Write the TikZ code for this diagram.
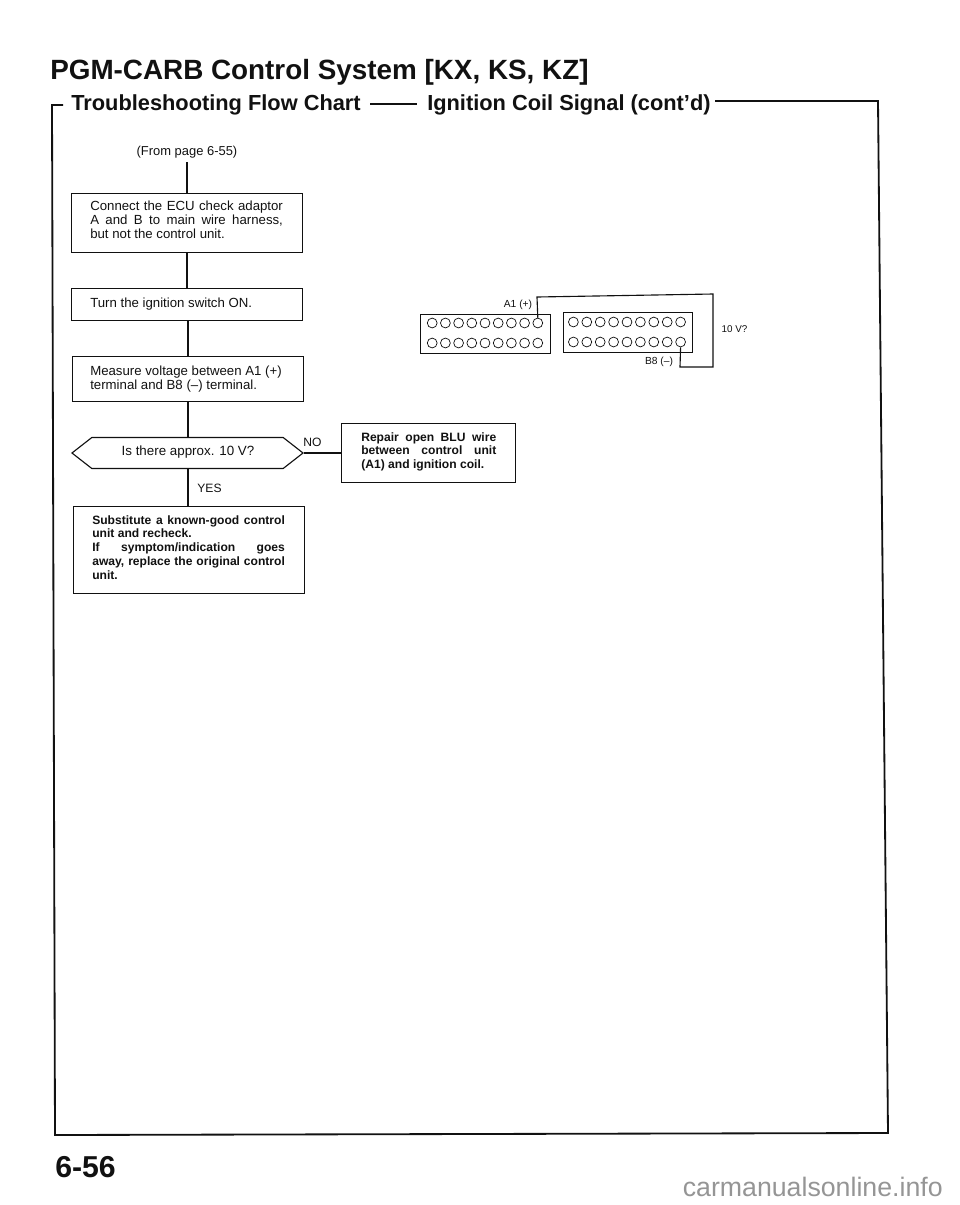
\documentclass[tikz,border=0pt]{standalone}
\usepackage{fontspec}
\setmainfont{Liberation Sans}
\usetikzlibrary{shapes.symbols}
\definecolor{Ink}{HTML}{111111}
\definecolor{Mark}{HTML}{959595}
\newcommand{\flowfont}{\fontsize{9.4}{9.9}\selectfont}
\newcommand{\boldfont}{\fontsize{8.6}{9.9}\selectfont\bfseries}
\tikzset{
  stepbox/.style={draw=Ink, line width=0.8pt, inner sep=0pt, anchor=north west},
  flowline/.style={draw=Ink, line width=0.8pt},
  pin/.style={draw=Ink, circle, line width=0.5pt, minimum size=7pt, inner sep=0pt},
  steptext/.style={inner sep=0pt, text=Ink, anchor=north west, align=justify, text width=137pt, font=\flowfont},
  tag/.style={inner sep=0pt, text=Ink},
}
\begin{document}
\begin{tikzpicture}[x=0.025cm, y=-0.025cm, font=\flowfont, text=Ink]
\useasboundingbox (0,0) rectangle (960,1205);
% title
\node[tag, anchor=base west, font=\fontsize{19.8}{24}\selectfont\bfseries] (title) at (50,79) {PGM-CARB Control System [KX, KS, KZ]};
\node[tag, anchor=base west, font=\fontsize{15.5}{18}\selectfont\bfseries] (subtitle) at (71,110) {Troubleshooting Flow Chart};
\node[tag, anchor=base west, font=\fontsize{15.5}{18}\selectfont\bfseries] (subsig) at (427,110) {Ignition Coil Signal (cont'd)};
\coordinate (dasha) at (370,104);
\coordinate (dashb) at (417,104);
\draw[Ink, line width=0.9pt] (dasha) -- (dashb);
% frame
\coordinate (fa) at (63,105);
\coordinate (fb) at (52,105);
\coordinate (fc) at (55,1135);
\coordinate (fd) at (888,1133);
\coordinate (fe) at (878,101);
\coordinate (ff) at (715,101);
\draw[Ink, line width=1.3pt] (fa) -- (fb) -- (fc) -- (fd) -- (fe) -- (ff);
% flow chart
\node[tag, font=\fontsize{9.2}{11}\selectfont] (from) at (187,152) {(From page 6-55)};
\coordinate (fromend) at (187,162);
\node[stepbox, minimum width=164.3pt, minimum height=42pt] (connect) at (71,193) {};
\node[steptext] (connecttxt) at (90,201) {Connect the ECU check adaptor A and B to main wire harness,\linebreak but not the control unit.};
\node[stepbox, minimum width=164.3pt, minimum height=22.8pt] (turn) at (71,288) {};
\node[steptext] (turntxt) at (90,297.5) {Turn the ignition switch ON.};
\node[stepbox, minimum width=164.3pt, minimum height=32pt] (measure) at (72,356) {};
\node[steptext] (measuretxt) at (90,365.5) {Measure voltage between A1 (+)\\terminal and B8 (--) terminal.};
\node[flowline, shape=signal, signal to=east and west, signal pointer angle=76, minimum width=164.3pt, minimum height=22pt, inner sep=0pt] (approx) at (187.5,453) {};
\node[tag, font=\fontsize{9.5}{11}\selectfont] (approxtxt) at (188,452.5) {Is there approx. 10 V?};
\node[stepbox, minimum width=123.8pt, minimum height=42pt] (repair) at (341,423) {};
\node[steptext, text width=96pt, font=\boldfont] (repairtxt) at (361,432) {Repair open BLU wire between control unit (A1) and ignition coil.};
\node[stepbox, minimum width=164.3pt, minimum height=61.9pt] (subst) at (72.5,506) {};
\node[steptext, font=\boldfont] (substtxt) at (92,515) {Substitute a known-good control unit and recheck.\\If symptom/indication goes\linebreak away, replace the original control\linebreak unit.};
\node[tag, font=\fontsize{8.6}{11}\selectfont] (no) at (312.5,442) {NO};
\node[tag, font=\fontsize{8.6}{11}\selectfont] (yes) at (209.5,488) {YES};
\draw[flowline] (fromend) -- (connect.north -| fromend);
\draw[flowline] (connect.south -| fromend) -- (turn.north -| fromend);
\draw[flowline] (turn.south -| 188,0) -- (measure.north -| 188,0);
\draw[flowline] (measure.south -| 188,0) -- (approx.north -| 188,0);
\draw[flowline] (approx.south -| 188,0) -- (subst.north -| 188,0);
\draw[flowline] (approx.east) -- (repair.west |- approx.east);
% connector blocks
\node[stepbox, minimum width=92.5pt, minimum height=27.7pt] (blocka) at (420,314) {};
\node[stepbox, minimum width=91.8pt, minimum height=28.4pt] (blockb) at (563,312) {};
\foreach \n in {1,...,9} {
  \node[pin] (aup\n) at ({419+13.2*\n},323) {};
  \node[pin] (alo\n) at ({419+13.2*\n},343) {};
  \node[pin] (bup\n) at ({560+13.4*\n},322) {};
  \node[pin] (blo\n) at ({560+13.4*\n},342) {};
}
\node[tag, font=\fontsize{7.3}{8}\selectfont] (aone) at (518,305) {A1 (+)};
\node[tag, font=\fontsize{7.3}{8}\selectfont] (beight) at (659,362) {B8 (--)};
\node[tag, font=\fontsize{7}{8}\selectfont] (volt) at (734.5,329) {10 V?};
\coordinate (wa) at (537,297);
\coordinate (wb) at (713,294);
\coordinate (wc) at (713,367);
\coordinate (wd) at (680,367);
\draw[flowline] (aup9.north) -- (wa) -- (wb) -- (wc) -- (wd) -- (blo9.south);
% page number
\node[tag, anchor=base west, font=\fontsize{21.5}{24}\selectfont\bfseries] (page) at (55,1177) {6-56};
\node[tag, anchor=base east, font=\fontsize{19}{20}\selectfont, text=Mark] (site) at (943,1196) {carmanualsonline.info};
\end{tikzpicture}
\end{document}
